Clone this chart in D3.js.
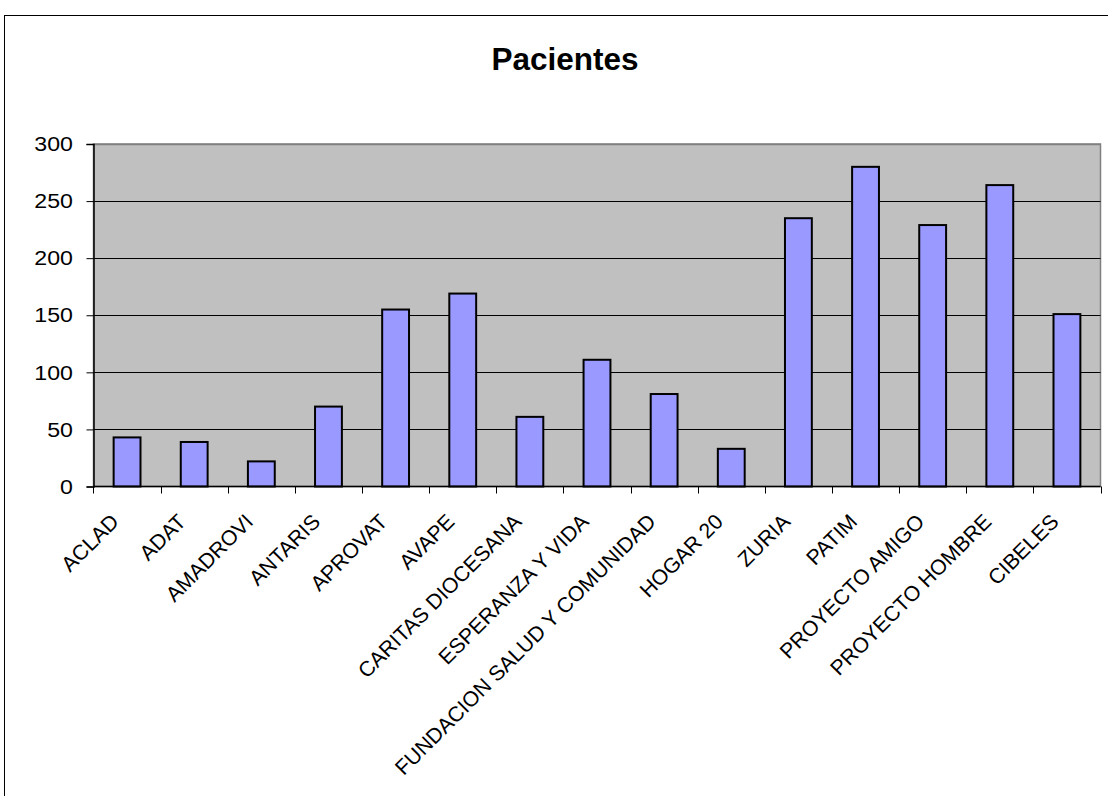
<!DOCTYPE html>
<html>
<head>
<meta charset="utf-8">
<script src="https://cdn.jsdelivr.net/npm/d3@7"></script>
<style>
  html, body { margin: 0; padding: 0; background: #ffffff; }
  svg { display: block; }
  text { font-family: "Liberation Sans", Arial, sans-serif; fill: #000; }
</style>
</head>
<body>
<svg id="chart" width="1108" height="796"></svg>
<script>
const title = "Pacientes";
const categories = ["ACLAD", "ADAT", "AMADROVI", "ANTARIS", "APROVAT", "AVAPE",
  "CARITAS DIOCESANA", "ESPERANZA Y VIDA", "FUNDACION SALUD Y COMUNIDAD", "HOGAR 20",
  "ZURIA", "PATIM", "PROYECTO AMIGO", "PROYECTO HOMBRE", "CIBELES"];
const values = [43, 39, 22, 70, 155, 169, 61, 111, 81, 33, 235, 280, 229, 264, 151];
const yTicks = [0, 50, 100, 150, 200, 250, 300];

const svg = d3.select("#chart");
const plot = { left: 93.5, top: 144, right: 1100.5, bottom: 486.5 };

// outer chart border
svg.append("rect")
  .attr("x", 4.5).attr("y", 15.5).attr("width", 1120).attr("height", 800)
  .attr("fill", "#fff").attr("stroke", "#000").attr("stroke-width", 1);

// title
svg.append("text")
  .attr("x", 565).attr("y", 70)
  .attr("text-anchor", "middle")
  .attr("font-size", 31.5).attr("font-weight", "bold")
  .text(title);

const x = d3.scaleBand().domain(categories).range([plot.left, plot.right]).paddingInner(0.6).paddingOuter(0.3);
const xb = d3.scaleBand().domain(categories).range([plot.left, plot.right]);
const y = d3.scaleLinear().domain([0, 300]).range([plot.bottom, plot.top]);

// plot background
svg.append("rect")
  .attr("x", plot.left).attr("y", plot.top)
  .attr("width", plot.right - plot.left).attr("height", plot.bottom - plot.top)
  .attr("fill", "#C0C0C0").attr("stroke", "#808080").attr("stroke-width", 1.5);

// gridlines
svg.append("g").selectAll("line").data(yTicks.filter(d => d > 0)).join("line")
  .attr("x1", plot.left).attr("x2", plot.right)
  .attr("y1", d => Math.round(y(d)) + 0.5).attr("y2", d => Math.round(y(d)) + 0.5)
  .attr("stroke", d => d === 300 ? "#808080" : "#000").attr("stroke-width", d => d === 300 ? 1.5 : 1);

// bars
svg.append("g").selectAll("rect").data(values).join("rect")
  .attr("x", (d, i) => x(categories[i]))
  .attr("y", d => y(d))
  .attr("width", x.bandwidth())
  .attr("height", d => y(0) - y(d))
  .attr("fill", "#9999FF").attr("stroke", "#000").attr("stroke-width", 2);

// y axis (line + ticks via d3 axis, labels drawn with slight horizontal stretch)
const yAxis = svg.append("g").attr("transform", `translate(${plot.left},0)`)
  .call(d3.axisLeft(y).tickValues(yTicks).tickSize(7).tickFormat(""));
yAxis.select(".domain").attr("stroke", "#000").attr("stroke-width", 1.5);
yAxis.selectAll(".tick line").attr("stroke", "#000");

svg.append("g").selectAll("text").data(yTicks).join("text")
  .attr("transform", d => `translate(73,${y(d)}) scale(1.13,1)`)
  .attr("text-anchor", "end")
  .attr("dy", "0.35em")
  .attr("font-size", 20.5)
  .text(d => d);

// x axis line and ticks at band boundaries
svg.append("line")
  .attr("x1", plot.left).attr("x2", plot.right)
  .attr("y1", plot.bottom).attr("y2", plot.bottom)
  .attr("stroke", "#000").attr("stroke-width", 1.5);
const boundaries = categories.map(c => xb(c)).concat([plot.right]);
svg.append("g").selectAll("line").data(boundaries).join("line")
  .attr("x1", d => Math.round(d) + 0.5).attr("x2", d => Math.round(d) + 0.5)
  .attr("y1", plot.bottom).attr("y2", plot.bottom + 7)
  .attr("stroke", "#000");

// x labels
svg.append("g").selectAll("text").data(categories).join("text")
  .attr("transform", c => `translate(${xb(c) + xb.bandwidth() / 2 - 7},523) rotate(-45)`)
  .attr("text-anchor", "end")
  .attr("font-size", 21.2)
  .text(c => c);
</script>
</body>
</html>
